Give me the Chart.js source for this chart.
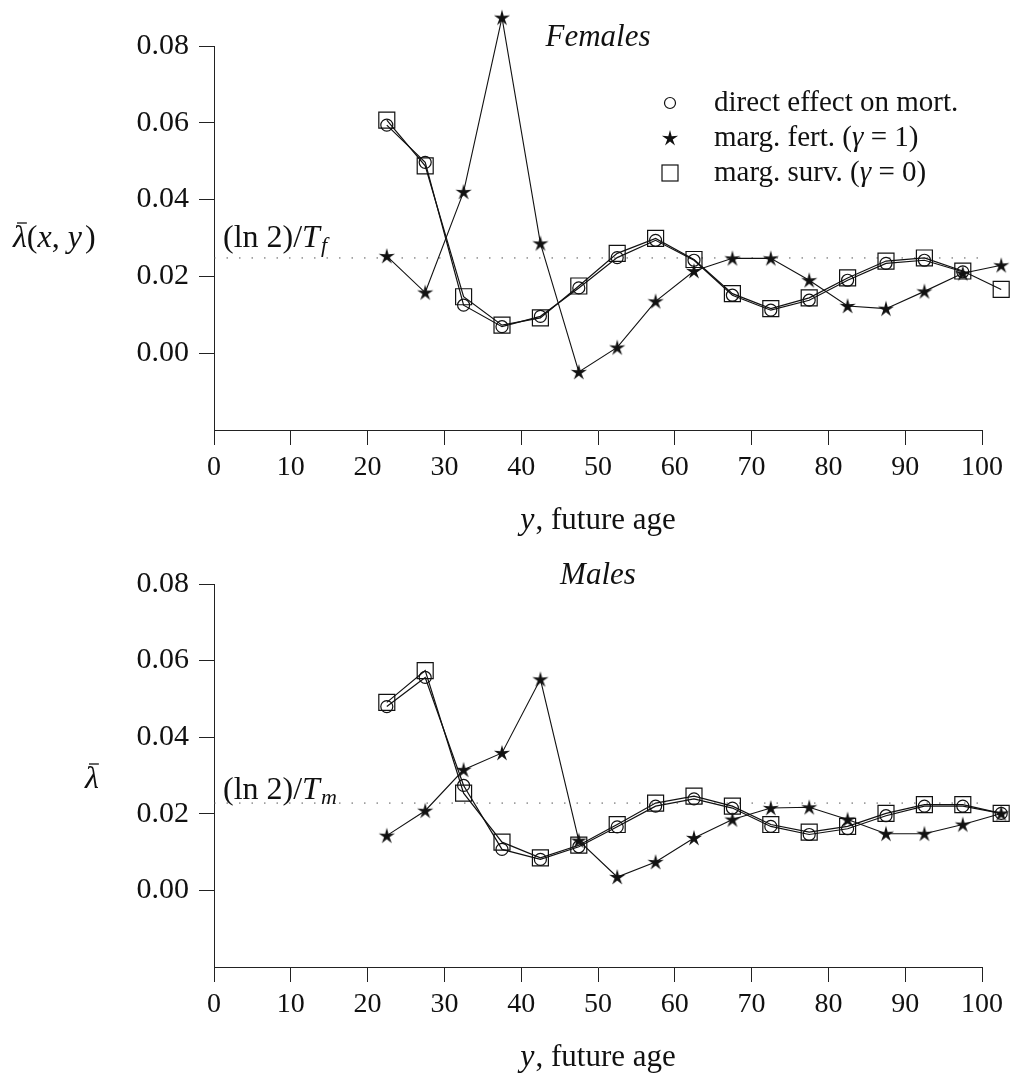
<!DOCTYPE html>
<html>
<head>
<meta charset="utf-8">
<script src="https://cdn.jsdelivr.net/npm/chart.js@4.4.1/dist/chart.umd.min.js"></script>
<style>
body { margin: 0; background: #fff; }
canvas { display: block; }
</style>
</head>
<body>
<canvas id="females" width="1011" height="538"></canvas>
<canvas id="males" width="1011" height="537"></canvas>
<script>
// future age y (mid-points of 5-year groups)
var ages = [22.5, 27.5, 32.5, 37.5, 42.5, 47.5, 52.5, 57.5, 62.5, 67.5, 72.5, 77.5, 82.5, 87.5, 92.5, 97.5, 102.5];

var femMort = [0.0594, 0.0497, 0.0125, 0.0069, 0.0096, 0.0170, 0.0249, 0.0294, 0.0242, 0.0151, 0.0112, 0.0138, 0.0190, 0.0234, 0.0242, 0.0212, null];
var femFert = [0.0253, 0.0158, 0.0420, 0.0874, 0.0286, -0.0049, 0.0015, 0.0135, 0.0214, 0.0247, 0.0247, 0.0190, 0.0123, 0.0116, 0.0161, 0.0208, 0.0229];
var femSurv = [0.0607, 0.0488, 0.0147, 0.0073, 0.0092, 0.0175, 0.0260, 0.0299, 0.0244, 0.0155, 0.0116, 0.0144, 0.0196, 0.0240, 0.0248, 0.0214, 0.0166];
var femRate = 0.0248;

var maleMort = [0.0480, 0.0556, 0.0274, 0.0107, 0.0081, 0.0114, 0.0166, 0.0220, 0.0239, 0.0215, 0.0167, 0.0146, 0.0161, 0.0195, 0.0220, 0.0220, 0.0201];
var maleFert = [0.0143, 0.0208, 0.0315, 0.0359, 0.0551, 0.0130, 0.0035, 0.0074, 0.0137, 0.0185, 0.0215, 0.0217, 0.0185, 0.0148, 0.0148, 0.0172, 0.0201];
var maleSurv = [0.0491, 0.0574, 0.0254, 0.0126, 0.0085, 0.0118, 0.0172, 0.0228, 0.0246, 0.0220, 0.0172, 0.0152, 0.0167, 0.0201, 0.0224, 0.0224, 0.0201];
var maleRate = 0.0228;

var seriesNames = ['direct effect on mort.', 'marg. fert. (\u03b3 = 1)', 'marg. surv. (\u03b3 = 0)'];
var xMin = 0, xMax = 100, xStep = 10;
var yMin = -0.02, yMax = 0.08, yStep = 0.02;

var SERIF = '"Liberation Serif", "Times New Roman", serif';
var INK = '#111';

// filled five-point star used as point style
function makeStar(size) {
	var c = document.createElement('canvas');
	c.width = size; c.height = size;
	var g = c.getContext('2d');
	var r1 = size / 2 - 0.5, r2 = r1 * 0.34;
	g.beginPath();
	for (var i = 0; i < 10; i++) {
		var a = -Math.PI / 2 + i * Math.PI / 5;
		var r = i % 2 ? r2 : r1;
		g.lineTo(size / 2 + r * Math.cos(a), size / 2 + r * Math.sin(a) + 0.5);
	}
	g.closePath();
	g.fillStyle = INK;
	g.fill();
	return c;
}
var star = makeStar(18);

function pts(values) {
	return ages.map(function (a, i) { return {x: a, y: values[i]}; });
}

function drawRuns(ctx, parts, x, y) {
	parts.forEach(function (p) {
		ctx.font = p.font;
		ctx.fillText(p.t, x, y + (p.dy || 0));
		var w = ctx.measureText(p.t).width;
		if (p.bar) {
			ctx.save();
			ctx.lineWidth = 1.3;
			ctx.strokeStyle = INK;
			ctx.beginPath();
			ctx.moveTo(x + 4, y - 24);
			ctx.lineTo(x + w, y - 24);
			ctx.stroke();
			ctx.restore();
		}
		x += w + (p.gap || 0);
	});
	return x;
}

function runsWidth(ctx, parts) {
	var w = 0;
	parts.forEach(function (p) { ctx.font = p.font; w += ctx.measureText(p.t).width + (p.gap || 0); });
	return w;
}

var rm = '29px ' + SERIF, it = 'italic 29px ' + SERIF;
var mrm = '32px ' + SERIF, mit = 'italic 32px ' + SERIF, mitSmall = 'italic 22px ' + SERIF;

// let marks just outside the axes (x = 102.5, the 0.087 peak) still be drawn
var overflow = {
	id: 'overflow',
	beforeDatasetsDraw: function (chart) {
		var a = chart.chartArea;
		chart._savedArea = {left: a.left, right: a.right, top: a.top, bottom: a.bottom};
		a.right += 30; a.top -= 40;
	},
	afterDatasetsDraw: function (chart) {
		Object.assign(chart.chartArea, chart._savedArea);
	}
};

var annotations = {
	id: 'annot',
	afterDraw: function (chart, args, o) {
		var ctx = chart.ctx, area = chart.chartArea;
		var xs = chart.scales.x, ys = chart.scales.y;
		var cx = xs.getPixelForValue(50);
		ctx.save();
		ctx.fillStyle = INK;
		ctx.textBaseline = 'alphabetic';

		// panel title
		ctx.font = 'italic 31px ' + SERIF;
		ctx.textAlign = 'center';
		ctx.fillText(o.title, cx, area.top);

		// x axis title
		ctx.textAlign = 'left';
		var full = [{t: 'y', font: mit, gap: 1}, {t: ', future age', font: '31px ' + SERIF}];
		drawRuns(ctx, full, cx - runsWidth(ctx, full) / 2, o.xTitleY);

		// y axis title
		if (o.fullLabel) {
			drawRuns(ctx, [{t: '\u03bb', font: mit, bar: true}, {t: '(', font: mrm}, {t: 'x', font: mit},
				{t: ', ', font: mrm}, {t: 'y', font: mit, gap: 3}, {t: ')', font: mrm}], 13, 247);
		} else {
			drawRuns(ctx, [{t: '\u03bb', font: mit, bar: true}], 85, 250);
		}

		// growth rate label
		var ry = ys.getPixelForValue(o.rate) - o.rateGap;
		drawRuns(ctx, [{t: '(ln 2)/', font: mrm}, {t: 'T', font: mit, gap: 1}, {t: o.sub, font: mitSmall, dy: 5}], area.left + 9, ry);

		// legend
		if (o.legend) {
			var lx = 670, ly = 103;
			chart.data.datasets.forEach(function (ds) {
				if (!ds.inLegend) return;
				ctx.strokeStyle = INK;
				ctx.lineWidth = 1.2;
				if (ds.pointStyle === 'circle') {
					ctx.beginPath();
					ctx.arc(lx, ly, 5.5, 0, Math.PI * 2);
					ctx.stroke();
				} else if (ds.pointStyle === 'rect') {
					ctx.strokeRect(lx - 8, ly - 8, 16, 16);
				} else {
					ctx.drawImage(ds.pointStyle, lx - 9, ly - 9);
				}
				var parts = ds.label.split('\u03b3');
				if (parts.length > 1) {
					drawRuns(ctx, [{t: parts[0], font: rm}, {t: '\u03b3', font: it}, {t: parts[1], font: rm}], 714, ly + 8);
				} else {
					ctx.font = rm;
					ctx.fillText(ds.label, 714, ly + 8);
				}
				ly += 35;
			});
		}
		ctx.restore();
	}
};

function makeChart(id, mort, fert, surv, rate, opts) {
	var ctx = document.getElementById(id).getContext('2d');
	return new Chart(ctx, {
		type: 'line',
		data: {
			datasets: [
				{
					label: seriesNames[0], data: pts(mort), inLegend: true,
					borderColor: INK, borderWidth: 1.2, pointStyle: 'circle', pointRadius: 6,
					pointBorderWidth: 1.2, pointBackgroundColor: 'rgba(0,0,0,0)', pointBorderColor: INK
				},
				{
					label: seriesNames[1], data: pts(fert), inLegend: true,
					borderColor: INK, borderWidth: 1.1, pointStyle: star, pointRadius: 9
				},
				{
					label: seriesNames[2], data: pts(surv), inLegend: true,
					borderColor: INK, borderWidth: 1.2, pointStyle: 'rect', pointRadius: 11.3,
					pointBorderWidth: 1.2, pointBackgroundColor: 'rgba(0,0,0,0)', pointBorderColor: INK
				},
				{
					label: 'rate', data: [{x: 0, y: rate}, {x: 100, y: rate}],
					borderColor: '#555', borderWidth: 1, borderDash: [1.5, 11], pointRadius: 0
				}
			]
		},
		options: {
			responsive: false,
			animation: false,
			events: [],
			datasets: { line: { clip: false, tension: 0, fill: false } },
			layout: { padding: { left: 0, right: 29, top: 46, bottom: 0 } },
			scales: {
				x: {
					type: 'linear', min: xMin, max: xMax,
					ticks: { stepSize: xStep, color: INK, padding: 6, maxRotation: 0, font: { family: SERIF, size: 28 } },
					grid: { drawOnChartArea: false, drawTicks: true, tickLength: 15, color: '#222' },
					border: { color: '#222', width: 1 },
					afterFit: function (s) { s.height = 108; }
				},
				y: {
					min: yMin, max: yMax,
					ticks: {
						stepSize: yStep, color: INK, padding: 10, font: { family: SERIF, size: 30 },
						callback: function (v) { return v < -0.001 ? '' : v.toFixed(2); }
					},
					grid: {
						drawOnChartArea: false, drawTicks: true, tickLength: 15,
						color: function (c) { return c.tick && c.tick.value < -0.001 ? 'rgba(0,0,0,0)' : '#222'; }
					},
					border: { color: '#222', width: 1 },
					afterFit: function (s) { s.width = 214; }
				}
			},
			plugins: {
				legend: { display: false },
				tooltip: { enabled: false },
				annot: opts
			}
		},
		plugins: [overflow, annotations]
	});
}

makeChart('females', femMort, femFert, femSurv, femRate,
	{ title: 'Females', xTitleY: 529, fullLabel: true, rate: femRate, rateGap: 11, sub: 'f', legend: true });
makeChart('males', maleMort, maleFert, maleSurv, maleRate,
	{ title: 'Males', xTitleY: 528, fullLabel: false, rate: maleRate, rateGap: 4, sub: 'm', legend: false });
</script>
</body>
</html>
